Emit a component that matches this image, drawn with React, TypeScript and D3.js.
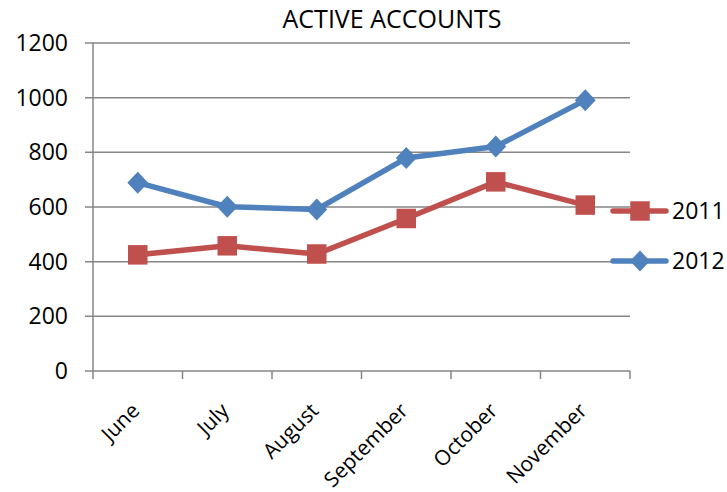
import { useMemo } from 'react'
import * as d3 from 'd3'

const WIDTH = 727
const HEIGHT = 492
const MARGIN = { top: 43, right: 97, bottom: 121, left: 93 }

const months = ['June', 'July', 'August', 'September', 'October', 'November']
const values2011 = [425, 458, 428, 558, 692, 607]
const values2012 = [689, 601, 591, 779, 821, 991]
const yTicks = [0, 200, 400, 600, 800, 1000, 1200]

const RED = '#C0504D'
const BLUE = '#4F81BD'
const GRID = '#868686'
const FONT = "'Open Sans', 'Noto Sans', sans-serif"

export default function App() {
  const boundsWidth = WIDTH - MARGIN.left - MARGIN.right
  const boundsHeight = HEIGHT - MARGIN.top - MARGIN.bottom

  const xScale = useMemo(
    () => d3.scaleBand().domain(months).range([0, boundsWidth]),
    [boundsWidth]
  )
  const yScale = useMemo(
    () => d3.scaleLinear().domain([0, 1200]).range([boundsHeight, 0]),
    [boundsHeight]
  )

  const cx = (m: string) => (xScale(m) ?? 0) + xScale.bandwidth() / 2
  const line = d3
    .line<number>()
    .x((_, i) => cx(months[i]))
    .y((d) => yScale(d))

  const square = d3.symbol(d3.symbolSquare, 380)()
  const diamond = (s: number) =>
    `M0,${-s}L${s * 0.95},0L0,${s}L${-s * 0.95},0Z`

  const legend = [
    { label: '2011', color: RED, y: 211, marker: 'square' },
    { label: '2012', color: BLUE, y: 261, marker: 'diamond' },
  ]

  return (
    <svg
      width={WIDTH}
      height={HEIGHT}
      style={{ position: 'absolute', left: 0, top: 0, background: 'white' }}
    >
      <text
        x={392}
        y={28}
        textAnchor="middle"
        style={{ fontFamily: FONT, fontSize: '25px', fill: '#000' }}
      >
        ACTIVE ACCOUNTS
      </text>
      <g transform={`translate(${MARGIN.left},${MARGIN.top})`}>
        {yTicks.map((t) => (
          <g key={t}>
            <line
              x1={-8}
              x2={t === 0 ? 0 : boundsWidth}
              y1={yScale(t)}
              y2={yScale(t)}
              stroke={GRID}
              strokeWidth={1.5}
            />
            <text
              x={-25}
              y={yScale(t)}
              dy="0.35em"
              textAnchor="end"
              style={{ fontFamily: FONT, fontSize: '23px', fill: '#000' }}
            >
              {t}
            </text>
          </g>
        ))}
        <line x1={0} x2={0} y1={0} y2={boundsHeight} stroke={GRID} strokeWidth={1.5} />
        <line
          x1={0}
          x2={boundsWidth}
          y1={boundsHeight}
          y2={boundsHeight}
          stroke={GRID}
          strokeWidth={1.5}
        />
        {[...months.map((m) => xScale(m) ?? 0), boundsWidth].map((x, i) => (
          <line
            key={i}
            x1={x}
            x2={x}
            y1={boundsHeight}
            y2={boundsHeight + 8}
            stroke={GRID}
            strokeWidth={1.5}
          />
        ))}
        {months.map((m) => (
          <text
            key={m}
            transform={`translate(${cx(m) + 3},${boundsHeight + 41}) rotate(-45)`}
            textAnchor="end"
            style={{ fontFamily: FONT, fontSize: '21px', fill: '#000' }}
          >
            {m}
          </text>
        ))}

        <path d={line(values2011) ?? ''} fill="none" stroke={RED} strokeWidth={5.5} strokeLinejoin="round" />
        {values2011.map((v, i) => (
          <path
            key={i}
            d={square}
            transform={`translate(${cx(months[i])},${yScale(v)})`}
            fill={RED}
          />
        ))}
        <path d={line(values2012) ?? ''} fill="none" stroke={BLUE} strokeWidth={5.5} strokeLinejoin="round" />
        {values2012.map((v, i) => (
          <path
            key={i}
            d={diamond(11)}
            transform={`translate(${cx(months[i])},${yScale(v)})`}
            fill={BLUE}
          />
        ))}
      </g>

      {legend.map((l) => (
        <g key={l.label} transform={`translate(640,${l.y})`}>
          <line x1={-27} x2={26} y1={0} y2={0} stroke={l.color} strokeWidth={5.5} strokeLinecap="round" />
          <path d={l.marker === 'square' ? square : diamond(10.5)} fill={l.color} />
          <text
            x={32}
            dy="0.35em"
            style={{ fontFamily: FONT, fontSize: '23px', fill: '#000' }}
          >
            {l.label}
          </text>
        </g>
      ))}
    </svg>
  )
}
